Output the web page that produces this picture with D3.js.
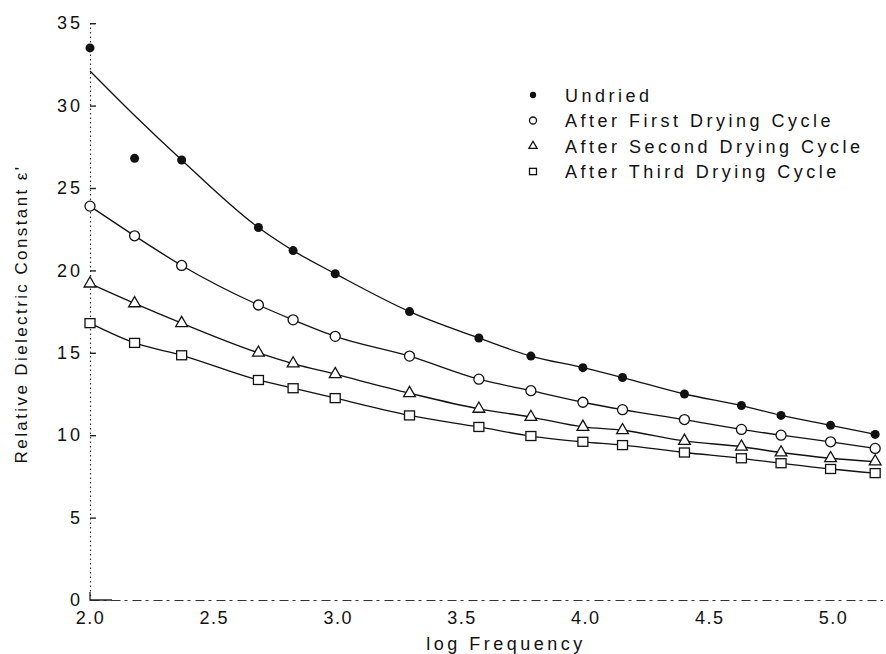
<!DOCTYPE html>
<html>
<head>
<meta charset="utf-8">
<script src="https://cdn.jsdelivr.net/npm/d3@7"></script>
<style>
  body { margin: 0; background: #fff; }
  svg text { font-family: "Liberation Sans", Arial, sans-serif; fill: #111; }
</style>
</head>
<body>
<div id="chart"></div>
<script>
// log frequency of each measurement
var logFreq = [2.0, 2.18, 2.37, 2.68, 2.82, 2.99, 3.29, 3.57, 3.78, 3.99, 4.15, 4.40, 4.63, 4.79, 4.99, 5.17];

var undried = [33.5, 26.8, 26.7, 22.6, 21.2, 19.8, 17.5, 15.9, 14.8, 14.1, 13.5, 12.5, 11.8, 11.2, 10.6, 10.05];
// the drawn curve for undried misses the first two points
var undriedFit = [32.1, 29.4, 26.7, 22.6, 21.2, 19.8, 17.5, 15.9, 14.8, 14.1, 13.5, 12.5, 11.8, 11.2, 10.6, 10.05];
var firstDry = [23.9, 22.1, 20.3, 17.9, 17.0, 16.0, 14.8, 13.4, 12.7, 12.0, 11.55, 10.95, 10.35, 10.0, 9.6, 9.2];
var secondDry = [19.2, 18.0, 16.8, 15.0, 14.35, 13.7, 12.55, 11.6, 11.1, 10.5, 10.3, 9.65, 9.3, 8.95, 8.6, 8.4];
var thirdDry = [16.8, 15.6, 14.85, 13.35, 12.85, 12.25, 11.2, 10.5, 9.95, 9.6, 9.4, 8.95, 8.6, 8.3, 7.95, 7.7];

var seriesNames = ["Undried", "After First Drying Cycle", "After Second Drying Cycle", "After Third Drying Cycle"];
var xTicks = [2.0, 2.5, 3.0, 3.5, 4.0, 4.5, 5.0];
var yTicks = [0, 5, 10, 15, 20, 25, 30, 35];

var width = 886;
var height = 654;

var svg = d3.select("#chart")
  .append("svg")
  .attr("width", width)
  .attr("height", height);

var x = d3.scaleLinear().domain([2, 5.2]).range([90, 882.6]);
var y = d3.scaleLinear().domain([0, 35]).range([600, 23.2]);

// axes
var yAxis = d3.axisLeft(y)
  .tickValues(yTicks)
  .tickSizeInner(-6)
  .tickSizeOuter(0)
  .tickPadding(7)
  .tickFormat(d3.format("d"));

var gy = svg.append("g")
  .attr("transform", `translate(${x(2)},0)`)
  .call(yAxis);
gy.select(".domain")
  .attr("stroke", "#333")
  .attr("stroke-width", 1.2)
  .attr("stroke-dasharray", "1.5,3");
gy.selectAll(".tick line").attr("stroke", "#222").attr("stroke-width", 1.4);
gy.selectAll(".tick").filter((d) => d == 0).select("line").remove();
gy.selectAll("text")
  .style("font-size", "18px")
  .style("letter-spacing", "3px")
  .attr("fill", "#111");

var xAxis = d3.axisBottom(x)
  .tickValues(xTicks)
  .tickSize(0)
  .tickPadding(11)
  .tickFormat(d3.format(".1f"));

var gx = svg.append("g")
  .attr("transform", `translate(0,${y(0)})`)
  .call(xAxis);
gx.select(".domain")
  .attr("stroke", "#333")
  .attr("stroke-width", 1.2)
  .attr("stroke-dasharray", "9,4,3,5");
gx.selectAll("text")
  .style("font-size", "18px")
  .style("letter-spacing", "1.5px")
  .attr("fill", "#111");

// solid corner at origin
svg.append("path")
  .attr("d", `M${x(2)},${y(0) - 8}V${y(0)}H${x(2) + 22}`)
  .attr("fill", "none")
  .attr("stroke", "#222")
  .attr("stroke-width", 1.3);

// axis titles
svg.append("text")
  .attr("x", 506)
  .attr("y", 650)
  .attr("text-anchor", "middle")
  .style("font-size", "18px")
  .style("letter-spacing", "3.5px")
  .text("log  Frequency");

svg.append("text")
  .attr("transform", "translate(27,314) rotate(-90)")
  .attr("text-anchor", "middle")
  .style("font-size", "17px")
  .style("letter-spacing", "2.4px")
  .text("Relative  Dielectric  Constant  ε'");

// curves
var line = d3.line()
  .x((d) => x(d[0]))
  .y((d) => y(d[1]))
  .curve(d3.curveMonotoneX);

var curves = [undriedFit, firstDry, secondDry, thirdDry];
curves.forEach((vals) => {
  svg.append("path")
    .datum(logFreq.map((f, i) => [f, vals[i]]))
    .attr("d", line)
    .attr("fill", "none")
    .attr("stroke", "#111")
    .attr("stroke-width", 1.3);
});

// markers
const drawMarker = (g, kind, cx, cy, s) => {
  if (kind == 0) {
    g.append("circle")
      .attr("cx", cx).attr("cy", cy).attr("r", 4.5 * s)
      .attr("fill", "#111");
  } else if (kind == 1) {
    g.append("circle")
      .attr("cx", cx).attr("cy", cy).attr("r", 5 * s)
      .attr("fill", "#fff").attr("stroke", "#111").attr("stroke-width", 1.3);
  } else if (kind == 2) {
    g.append("path")
      .attr("transform", `translate(${cx},${cy})`)
      .attr("d", d3.symbol(d3.symbolTriangle, 60 * s * s)())
      .attr("fill", "#fff").attr("stroke", "#111").attr("stroke-width", 1.3);
  } else {
    g.append("rect")
      .attr("x", cx - 5 * s).attr("y", cy - 4.5 * s)
      .attr("width", 10 * s).attr("height", 9 * s)
      .attr("fill", "#fff").attr("stroke", "#111").attr("stroke-width", 1.3);
  }
};

var pointSets = [undried, firstDry, secondDry, thirdDry];
pointSets.forEach((vals, k) => {
  var g = svg.append("g").attr("class", "series-" + k);
  logFreq.forEach((f, i) => drawMarker(g, k, x(f), y(vals[i]), 1));
});

// legend
var legend = svg.append("g").attr("transform", "translate(533,95)");
seriesNames.forEach((name, i) => {
  var row = legend.append("g").attr("transform", `translate(0,${i * 25.5})`);
  drawMarker(row, i, 0, 0, 0.7);
  row.append("text")
    .attr("x", 32)
    .attr("y", 6.5)
    .style("font-size", "18px")
    .style("letter-spacing", "3.5px")
    .text(name);
});
</script>
</body>
</html>
